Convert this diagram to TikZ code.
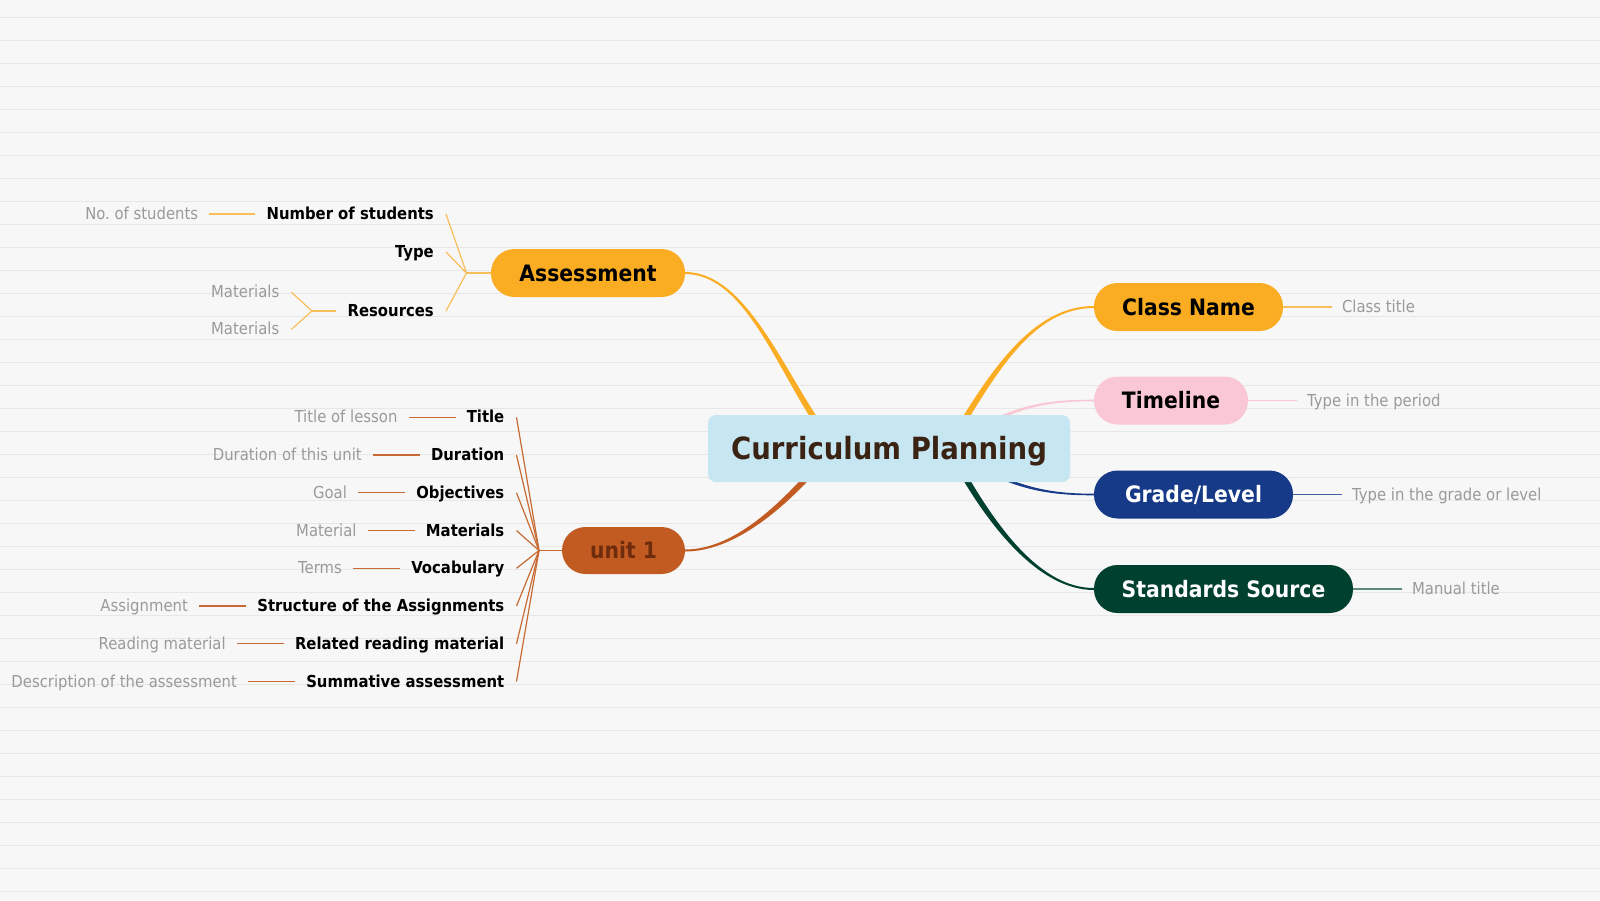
\documentclass[tikz,border=0pt]{standalone}
\usepackage{fontspec}
\setmainfont{DejaVu Sans}[FakeStretch=0.9]
\usetikzlibrary{calc,positioning}
\pgfdeclarelayer{bg}
\pgfdeclarelayer{links}
\pgfsetlayers{bg,links,main}
\frenchspacing
\definecolor{bgcol}{HTML}{F7F7F7}
\definecolor{gridcol}{HTML}{E7E7E7}
\definecolor{corange}{HTML}{FAAC23}
\definecolor{lorange}{HTML}{F9BE5C}
\definecolor{cpink}{HTML}{F9C8D4}
\definecolor{cnavy}{HTML}{163A88}
\definecolor{lnavy}{HTML}{3F5E9E}
\definecolor{cgreen}{HTML}{00402F}
\definecolor{lgreen}{HTML}{5E8A80}
\definecolor{cbrown}{HTML}{C15B22}
\definecolor{lbrown}{HTML}{C76A34}
\definecolor{cbrowntext}{HTML}{6E2C0C}
\definecolor{cblue}{HTML}{C6E7F2}
\definecolor{croottext}{HTML}{3B2313}
\definecolor{leafgray}{HTML}{9A9A9A}
\newcommand\taperlink[7]{\fill[#1] ($#2+(0,-#6)$) .. controls ($#3+(0,-#6)$) and ($#4+#7$) .. ($#5+#7$) -- ($#5-#7$) .. controls ($#4-#7$) and ($#3+(0,#6)$) .. ($#2+(0,#6)$) -- cycle;}
\begin{document}
\begin{tikzpicture}[x=1pt,y=-1pt,
  rootnode/.style={fill=cblue, text=croottext, rounded corners=8pt, minimum width=362pt, minimum height=67pt, inner sep=0pt, font=\fontsize{30.6}{36}\selectfont\bfseries, text height=22pt, text depth=0pt},
  mainnode/.style={rounded corners=23.5pt, minimum height=48pt, inner sep=0pt, font=\fontsize{22.6}{26}\selectfont\bfseries, text=black, text height=16pt, text depth=0pt},
  childtext/.style={inner sep=0pt, font=\fontsize{16.5}{20}\selectfont\bfseries, text=black, text height=12pt, text depth=1pt},
  leaf/.style={inner sep=0pt, font=\fontsize{16.5}{20}\selectfont, text=leafgray, text height=12pt, text depth=1pt},
  olink/.style={draw=lorange, line width=1.2pt},
  blink/.style={draw=lbrown, line width=1.2pt}]
\useasboundingbox (0,0) rectangle (1600,900);
\begin{pgfonlayer}{bg}
\fill[bgcol] (0,0) rectangle (1600,900);
\foreach \k in {0,...,38} \draw[gridcol, line width=1.3pt] (0,17.3+23*\k) -- (1600,17.3+23*\k);
\end{pgfonlayer}

% main nodes
\node[rootnode] (C) at (889,448.5) {Curriculum Planning};
\node[mainnode, fill=corange, minimum width=194pt] (A) at (588,273) {Assessment};
\node[mainnode, fill=corange, minimum width=189pt] (CN) at (1188.5,307) {Class Name};
\node[mainnode, fill=cpink, minimum width=154pt] (TL) at (1171,400.5) {Timeline};
\node[mainnode, fill=cnavy, text=white, minimum width=199pt] (GL) at (1193.5,494.5) {Grade/Level};
\node[mainnode, fill=cgreen, text=white, minimum width=259pt] (SS) at (1223.5,589) {Standards Source};
\node[mainnode, fill=cbrown, text=cbrowntext, minimum width=123pt, minimum height=47pt] (U) at (623.5,550.5) {unit 1};

% tapered links from the root
\begin{pgfonlayer}{links}
\coordinate (a1) at ($(A.east)+(60,0)$);
\coordinate (a3) at ($(C.north)+(-67,15)$);
\coordinate (a2) at ($(a3)+(-42,-60)$);
\taperlink{corange}{(A.east)}{(a1)}{(a2)}{(a3)}{1}{(2.46,-1.72)}
\coordinate (c1) at ($(CN.west)+(-60,0)$);
\coordinate (c3) at ($(C.north)+(68,17)$);
\coordinate (c2) at ($(c3)+(38,-62)$);
\taperlink{corange}{(CN.west)}{(c1)}{(c2)}{(c3)}{1}{(-2.56,-1.57)}
\coordinate (t1) at ($(TL.west)+(-39,0)$);
\coordinate (t3) at ($(C.north)+(96,10)$);
\coordinate (t2) at ($(t3)+(40,-21)$);
\taperlink{cpink}{(TL.west)}{(t1)}{(t2)}{(t3)}{0.8}{(-0.7,-1.33)}
\coordinate (g1) at ($(GL.west)+(-39,0)$);
\coordinate (g3) at ($(C.south)+(96,-12)$);
\coordinate (g2) at ($(g3)+(40,20)$);
\taperlink{cnavy}{(GL.west)}{(g1)}{(g2)}{(g3)}{0.8}{(0.67,-1.34)}
\coordinate (s1) at ($(SS.west)+(-54,0)$);
\coordinate (s3) at ($(C.south)+(69,-17)$);
\coordinate (s2) at ($(s3)+(35,62)$);
\taperlink{cgreen}{(SS.west)}{(s1)}{(s2)}{(s3)}{1}{(2.6,-1.48)}
\coordinate (u1) at ($(U.east)+(45,0)$);
\coordinate (u3) at ($(C.south)+(-71,-17)$);
\coordinate (u2) at ($(u3)+(-42,48)$);
\taperlink{cbrown}{(U.east)}{(u1)}{(u2)}{(u3)}{1}{(-2.26,-1.97)}
\end{pgfonlayer}

% right leaves
\node[leaf, right=58.7pt of CN] (CNl) {Class title};
\draw[draw=lorange, line width=1.2pt] (CN.east) -- ([xshift=-10pt]CNl.west);
\node[leaf, right=58.7pt of TL] (TLl) {Type in the period};
\draw[draw=cpink, line width=1.2pt] (TL.east) -- ([xshift=-10pt]TLl.west);
\node[leaf, right=58.7pt of GL] (GLl) {Type in the grade or level};
\draw[draw=lnavy, line width=1.2pt] (GL.east) -- ([xshift=-10pt]GLl.west);
\node[leaf, right=58.7pt of SS] (SSl) {Manual title};
\draw[draw=lgreen, line width=1.2pt] (SS.east) -- ([xshift=-10pt]SSl.west);

% assessment subtree
\coordinate (ab) at (466.5,273);
\draw[olink] (A.west) -- (ab);
\node[childtext, anchor=east] (an) at (434,214) {Number of students};
\node[childtext, anchor=east] (at) at (434,252) {Type};
\node[childtext, anchor=east] (ar) at (434,311) {Resources};
\foreach \n in {an,at,ar} \draw[olink] (ab) -- ([xshift=12pt]\n.east);
\node[leaf, left=68pt of an] (anl) {No. of students};
\draw[olink] ([xshift=-11pt]an.west) -- ([xshift=11pt]anl.east);
\coordinate (rb) at ($(ar.west)+(-35.5,0)$);
\draw[olink] ([xshift=-11pt]ar.west) -- (rb);
\node[leaf, anchor=east] (m1) at ($(rb)+(-32.5,-18.7)$) {Materials};
\node[leaf, anchor=east] (m2) at ($(rb)+(-32.5,18.3)$) {Materials};
\draw[olink] (rb) -- ([xshift=12pt]m1.east);
\draw[olink] (rb) -- ([xshift=12pt]m2.east);

% unit 1 subtree
\coordinate (ub) at (539,550.5);
\draw[blink] (U.west) -- (ub);
\foreach \i/\y/\t/\l in {1/417.3/Title/Title of lesson,
  2/455/Duration/Duration of this unit,
  3/492.8/Objectives/Goal,
  4/530.6/Materials/Material,
  5/568.3/Vocabulary/Terms,
  6/606/Structure of the Assignments/Assignment,
  7/643.8/Related reading material/Reading material,
  8/681.5/Summative assessment/Description of the assessment}{
  \node[childtext, anchor=east] (uc\i) at (504.5,\y) {\t};
  \draw[blink] (ub) -- ([xshift=12pt]uc\i.east);
  \node[leaf, left=69pt of uc\i] (ul\i) {\l};
  \draw[blink] ([xshift=-11pt]uc\i.west) -- ([xshift=11pt]ul\i.east);
}
\end{tikzpicture}
\end{document}
